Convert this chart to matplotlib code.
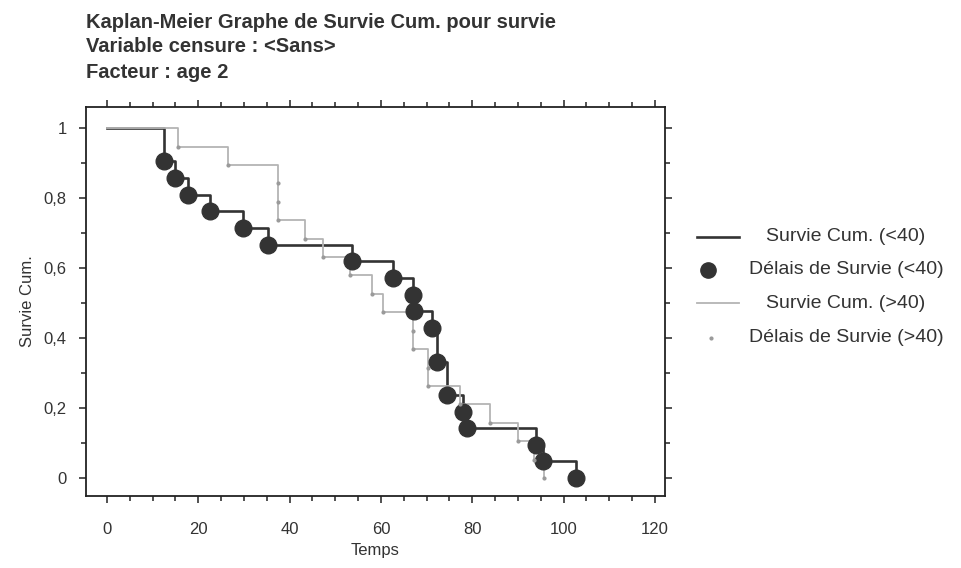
import matplotlib
matplotlib.use("Agg")
import matplotlib.pyplot as plt
from matplotlib.lines import Line2D
from matplotlib.ticker import MultipleLocator, FuncFormatter

plt.rcParams["font.family"] = ["Liberation Sans", "DejaVu Sans"]

# Kaplan-Meier survival, age group < 40 (21 cases, no censoring)
young_time = [0, 12.5, 14.9, 17.7, 22.6, 29.8, 35.3, 53.6, 62.6, 67.0, 67.2,
              71.2, 72.3, 74.4, 78.0, 78.8, 93.9, 95.5, 102.7]
young_surv = [1.0, 0.905, 0.857, 0.810, 0.762, 0.714, 0.667, 0.619, 0.571,
              0.524, 0.476, 0.429, 0.333, 0.238, 0.190, 0.143, 0.095, 0.048, 0.0]

# age group > 40 (19 cases, ties repeated)
old_time = [0, 15.6, 26.5, 37.4, 37.4, 37.4, 43.4, 47.3, 53.2, 58.0, 60.4,
            67.0, 67.0, 70.3, 70.3, 77.3, 83.9, 90.0, 93.5, 95.8]
old_surv = [1.0, 0.947, 0.895, 0.842, 0.789, 0.737, 0.684, 0.632, 0.579,
            0.526, 0.474, 0.421, 0.368, 0.316, 0.263, 0.211, 0.158, 0.105,
            0.053, 0.0]

title_lines = ["Kaplan-Meier Graphe de Survie Cum. pour survie",
               "Variable censure : <Sans>",
               "Facteur : age 2"]
legend_labels = ["Survie Cum. (<40)", "Délais de Survie (<40)",
                 "Survie Cum. (>40)", "Délais de Survie (>40)"]

DARK = "#333333"
LIGHT = "#b4b4b4"
W, H = 961, 568


def fx(px):
    return px / W


def fy(py):
    return 1 - py / H


fig = plt.figure(figsize=(W / 100, H / 100), dpi=100)
ax = fig.add_axes([fx(86), fy(496), fx(665) - fx(86), fy(107) - fy(496)])

ax.step(young_time, young_surv, where="post", color=DARK, lw=1.9, zorder=2)
ax.step(old_time, old_surv, where="post", color=LIGHT, lw=1.3, zorder=3)
ax.plot(young_time[1:], young_surv[1:], "o", color=DARK, ms=12, zorder=4)
ax.plot(old_time[1:], old_surv[1:], ".", color="#9a9a9a", ms=4, zorder=5)

ax.set_xlim(-4.6, 122.2)
ax.set_ylim(-0.051, 1.06)
ax.xaxis.set_major_locator(MultipleLocator(20))
ax.xaxis.set_minor_locator(MultipleLocator(5))
ax.yaxis.set_major_locator(MultipleLocator(0.2))
ax.yaxis.set_minor_locator(MultipleLocator(0.1))
ax.yaxis.set_major_formatter(FuncFormatter(lambda v, p: f"{v:g}".replace(".", ",")))
ax.tick_params(which="both", direction="out", top=True, right=True,
               color="#222222", width=1.1)
ax.tick_params(which="major", length=5, labelsize=12, labelcolor="#333333")
ax.tick_params(which="minor", length=3.5)
ax.tick_params(axis="x", which="major", pad=14)
ax.tick_params(axis="y", which="major", pad=9)
for sp in ax.spines.values():
    sp.set_linewidth(1.3)
    sp.set_color("#222222")

ax.set_xlabel("Temps", fontsize=12, color="#333333", labelpad=4)
ax.set_ylabel("Survie Cum.", fontsize=12, color="#333333", labelpad=6)

for y, line in zip([22, 47, 72], title_lines):
    fig.text(fx(86), fy(y), line, fontsize=14.5, fontweight="bold",
             color="#333333", va="center", ha="left")

# legend drawn by hand so the labels sit centred like the original output
rows = [237, 270, 303, 338]
fig.add_artist(Line2D([fx(697), fx(739)], [fy(rows[0])] * 2, color=DARK, lw=1.9))
fig.add_artist(Line2D([fx(708)], [fy(rows[1])], marker="o", color=DARK, ms=11))
fig.add_artist(Line2D([fx(697), fx(739)], [fy(rows[2])] * 2, color=LIGHT, lw=1.3))
fig.add_artist(Line2D([fx(711)], [fy(rows[3])], marker=".", color="#9a9a9a", ms=4))
for y, lab in zip(rows, legend_labels):
    fig.text(fx(846), fy(y), lab, fontsize=14, color="#333333",
             ha="center", va="center")

fig.savefig("out.png", dpi=100)
